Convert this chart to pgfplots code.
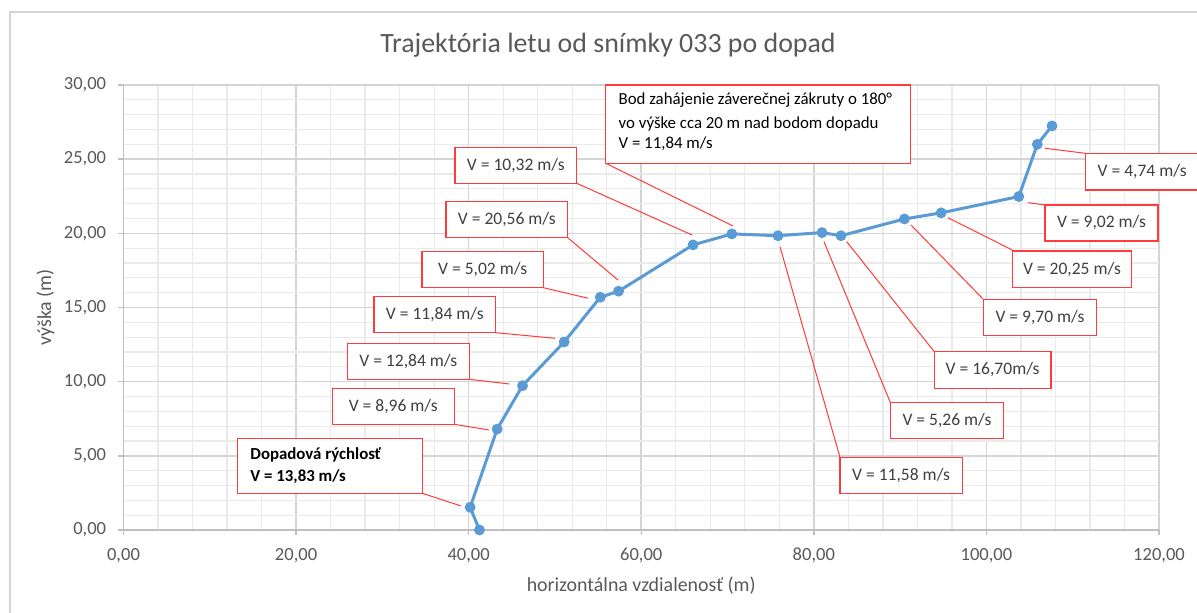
\documentclass[border=0pt]{standalone}
\usepackage{fontspec}
\setmainfont{Carlito}
\usepackage{pgfplots}
\pgfplotsset{compat=1.18}
\definecolor{txt}{HTML}{595959}
\definecolor{ctext}{HTML}{404040}
\definecolor{series}{HTML}{5B9BD5}
\definecolor{majgrid}{HTML}{D4D4D4}
\definecolor{mingrid}{HTML}{EAEAEA}
\definecolor{axisc}{HTML}{BFBFBF}
\definecolor{callred}{HTML}{FF3B3B}
\newcommand{\cfont}{\fontsize{8.8}{10}\selectfont}
\newcommand{\mfont}{\fontsize{8.45}{10}\selectfont}
\newcommand{\callout}[5]{%
  \draw[callred, line width=0.65bp, fill=white] (#1,#2) rectangle (#3,#4);
  \node[font=\cfont, text=ctext, inner sep=0pt] at ({(#1+#3)/2},{(#2+#4)/2}) {#5};}
\begin{document}
\begin{tikzpicture}
\useasboundingbox (0,0) rectangle (598.5bp,306.5bp);
\fill[white] (0,0) rectangle (598.5bp,306.5bp);
\draw[majgrid, line width=0.6bp] (5bp,0) -- (5bp,300.5bp) -- (600bp,300.5bp);
\begin{axis}[
  at={(61.75bp,41.5bp)}, anchor=south west, scale only axis,
  width=517.75bp, height=222.5bp,
  xmin=0, xmax=120, ymin=0, ymax=30,
  xtick={0,20,...,120}, ytick={0,5,...,30},
  minor xtick={4,8,...,116}, minor ytick={1,2,...,29},
  xmajorgrids=true, ymajorgrids=true, xminorgrids=true, yminorgrids=true,
  major grid style={draw=majgrid, line width=0.8bp},
  minor grid style={draw=mingrid, line width=0.65bp},
  axis x line*=bottom, axis y line*=left,
  axis line style={axisc, line width=0.8bp, -},
  tick align=outside, major tick length=2.5bp, minor tick length=0pt,
  tick style={axisc, line width=0.75bp},
  /pgf/number format/.cd, fixed, fixed zerofill, precision=2, use comma, assume math mode=true,
  /pgfplots/.cd,
  ticklabel style={font=\fontsize{9.3}{11}\selectfont, text=txt},
  xticklabel style={yshift=-3bp},
  yticklabel style={xshift=-2.7bp},
  xlabel={horizontálna vzdialenosť (m)},
  ylabel={výška (m)},
  label style={font=\fontsize{10}{12}\selectfont, text=txt},
  xlabel style={at={(axis description cs:0.5,-0.1258)}, anchor=center},
  ylabel style={at={(axis description cs:-0.0754,0.5)}, anchor=center, rotate=0},
  clip=false,
]
\addplot[series, line width=1.5bp, mark=*, mark size=2.5bp,
  mark options={fill=series, draw=series, line width=0.4bp, solid}] coordinates {
  (41.25,0.00)
  (40.17,1.53)
  (43.30,6.80)
  (46.24,9.73)
  (51.07,12.68)
  (55.25,15.69)
  (57.37,16.10)
  (66.00,19.22)
  (70.50,19.96)
  (75.85,19.84)
  (80.95,20.05)
  (83.15,19.84)
  (90.50,20.97)
  (94.75,21.38)
  (103.75,22.48)
  (105.90,26.00)
  (107.60,27.24)
};
\end{axis}
\begin{scope}[shift={(0bp,306.5bp)}, x=0.5bp, y=-0.5bp]
  \node[font=\fontsize{14}{16}\selectfont, text=txt] at (608,45) {Trajektória letu od snímky 033 po dopad};
  % leader lines
  \begin{scope}[callred, line width=0.5bp]
    \draw (422.3,493.3) -- (461,506);
    \draw (454.3,424.3) -- (489,430);
    \draw (469.3,379.3) -- (509.3,384);
    \draw (495.7,332.7) -- (555,338.3);
    \draw (543.3,287.7) -- (588.3,298.3);
    \draw (567.7,237.7) -- (618,280);
    \draw (576.7,183.3) -- (692,235);
    \draw (605.7,163.3) -- (733,226);
    \draw (840,457.3) -- (780,246.7);
    \draw (890.3,402.3) -- (824,241.7);
    \draw (934.3,351.7) -- (846.7,241.7);
    \draw (983.3,299.3) -- (911,225);
    \draw (1012.3,250) -- (948,217.7);
    \draw (1045,205) -- (1028,202.7);
    \draw (1085.3,153.3) -- (1045,148.3);
  \end{scope}
  % boxes
  \draw[callred, line width=0.65bp, fill=white] (237.3,438.3) rectangle (422.3,493.3);
  \node[font=\mfont\bfseries, text=black, anchor=base west, inner sep=0pt] at (250,460) {Dopadová rýchlosť};
  \node[font=\mfont\bfseries, text=black, anchor=base west, inner sep=0pt] at (250,481.7) {V = 13,83 m/s};
  \callout{332.3}{388.3}{454.3}{424.3}{V = 8,96 m/s}
  \callout{347.3}{343.3}{469.3}{379.3}{V = 12,84 m/s}
  \callout{374}{296.7}{495.7}{332.7}{V = 11,84 m/s}
  \callout{422}{251.7}{543.3}{287.7}{V = 5,02 m/s}
  \callout{446}{201.3}{567.7}{237.7}{V = 20,56 m/s}
  \callout{455}{147.3}{576.7}{183.3}{V = 10,32 m/s}
  \draw[callred, line width=0.65bp, fill=white] (605.7,85) rectangle (910.7,163.3);
  \node[font=\mfont, text=black, anchor=base west, inner sep=0pt] at (618.3,105) {Bod zahájenie záverečnej zákruty o 180°};
  \node[font=\mfont, text=black, anchor=base west, inner sep=0pt] at (618.3,128.3) {vo výške cca 20 m nad bodom dopadu};
  \node[font=\mfont, text=black, anchor=base west, inner sep=0pt] at (618.3,149) {V = 11,84 m/s};
  \callout{840}{457.3}{962.3}{493.3}{V = 11,58 m/s}
  \callout{890.3}{402.3}{1003.7}{438.3}{V = 5,26 m/s}
  \callout{934.3}{351.7}{1051}{388.3}{V = 16,70m/s}
  \callout{983.3}{299.3}{1096.7}{335.3}{V = 9,70 m/s}
  \callout{1012.3}{251}{1131.7}{287.3}{V = 20,25 m/s}
  \callout{1045}{205}{1158}{241}{V = 9,02 m/s}
  \callout{1085.3}{153.3}{1199}{190}{V = 4,74 m/s}
\end{scope}
\end{tikzpicture}
\end{document}
